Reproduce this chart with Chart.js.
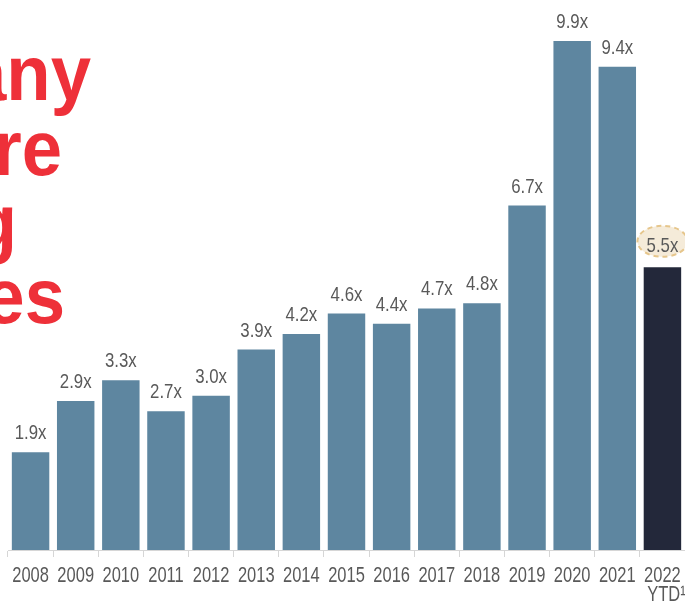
<!DOCTYPE html>
<html>
<head>
<meta charset="utf-8">
<style>
  html, body { margin: 0; padding: 0; background: #fff; overflow: hidden; }
  #wrap { position: relative; width: 685px; height: 603px; }
</style>
<script src="https://cdn.jsdelivr.net/npm/chart.js@4"></script>
</head>
<body>
<div id="wrap"><canvas id="chart" width="685" height="603"></canvas></div>
<script>
// data
const years = ['2008', '2009', '2010', '2011', '2012', '2013', '2014', '2015',
               '2016', '2017', '2018', '2019', '2020', '2021', ['2022', 'YTD¹']];
const multiples = [1.9, 2.9, 3.3, 2.7, 3.0, 3.9, 4.2, 4.6, 4.4, 4.7, 4.8, 6.7, 9.9, 9.4, 5.5];
const headlineLines = ['any', 're', 'g', 'es'];   // only the right ends of the title show

const barBlue = '#5E86A0';
const barDark = '#23283A';
const labelGrey = '#595959';
const sansFont = '"Liberation Sans", Arial, sans-serif';

// no narrow font installed, so squeeze Liberation Sans sideways
function narrowText(ctx, text, x, y, squeeze) {
    ctx.save();
    ctx.translate(x, y);
    ctx.scale(squeeze, 1);
    ctx.fillText(text, 0, 0);
    ctx.restore();
}

// red headline, cut off on the left edge of the picture
const headlinePlugin = {
    id: 'headline',
    afterDraw(chart) {
        const ctx = chart.ctx;
        const ends = [91, 62, 17, 65];
        const baselines = [100, 175, 249, 323];
        ctx.save();
        ctx.fillStyle = '#EE3039';
        ctx.font = 'bold 78px ' + sansFont;
        ctx.textAlign = 'right';
        ctx.textBaseline = 'alphabetic';
        headlineLines.forEach((t, i) => narrowText(ctx, t, ends[i], baselines[i], 0.93));
        ctx.restore();
    }
};

// year labels under the axis, placed by the category scale
const yearLabelPlugin = {
    id: 'yearLabels',
    afterDraw(chart) {
        const ctx = chart.ctx;
        const xs = chart.scales.x;
        const top = chart.chartArea.bottom;
        ctx.save();
        ctx.fillStyle = labelGrey;
        ctx.font = '22px ' + sansFont;
        ctx.textAlign = 'center';
        ctx.textBaseline = 'alphabetic';
        years.forEach((lab, i) => {
            const lines = Array.isArray(lab) ? lab : [lab];
            const x = xs.getPixelForValue(i);
            lines.forEach((t, j) => narrowText(ctx, t, x + (j ? 4 : 0), top + 32 + j * 19, 0.75));
        });
        ctx.restore();
    }
};

// "1.9x" style labels over each bar, last one in a dashed bubble
const valueLabelPlugin = {
    id: 'valueLabels',
    afterDatasetsDraw(chart) {
        const ctx = chart.ctx;
        const meta = chart.getDatasetMeta(0);
        ctx.save();
        ctx.font = '21px ' + sansFont;
        ctx.textAlign = 'center';
        ctx.textBaseline = 'alphabetic';
        meta.data.forEach((bar, i) => {
            const text = multiples[i].toFixed(1) + 'x';
            let y = bar.y - 13;
            if (i === multiples.length - 1) {
                y = bar.y - 15;
                ctx.beginPath();
                ctx.ellipse(bar.x, y - 11, 25, 15.5, 0, 0, Math.PI * 2);
                ctx.fillStyle = '#F5EBD9';
                ctx.fill();
                ctx.setLineDash([5, 4]);
                ctx.lineWidth = 2;
                ctx.strokeStyle = '#E6C68C';
                ctx.stroke();
                ctx.setLineDash([]);
            }
            ctx.fillStyle = labelGrey;
            narrowText(ctx, text, bar.x, y, 0.8);
        });
        ctx.restore();
    }
};

new Chart(document.getElementById('chart'), {
    type: 'bar',
    data: {
        labels: years,
        datasets: [{
            data: multiples,
            backgroundColor: multiples.map((v, i) => i === multiples.length - 1 ? barDark : barBlue),
            borderWidth: 0,
            barPercentage: 0.83,
            categoryPercentage: 1.0
        }]
    },
    options: {
        responsive: false,
        animation: false,
        layout: { padding: { left: 8, right: 0, top: 0, bottom: 46 } },
        plugins: {
            legend: { display: false },
            tooltip: { enabled: false }
        },
        scales: {
            x: {
                grid: { drawOnChartArea: false, drawTicks: true, tickLength: 7, color: '#D6D6D6' },
                border: { display: true, color: '#D6D6D6', width: 1 },
                ticks: { display: false }
            },
            y: {
                display: false,
                min: 0,
                max: 10.7
            }
        }
    },
    plugins: [headlinePlugin, valueLabelPlugin, yearLabelPlugin]
});
</script>
</body>
</html>
